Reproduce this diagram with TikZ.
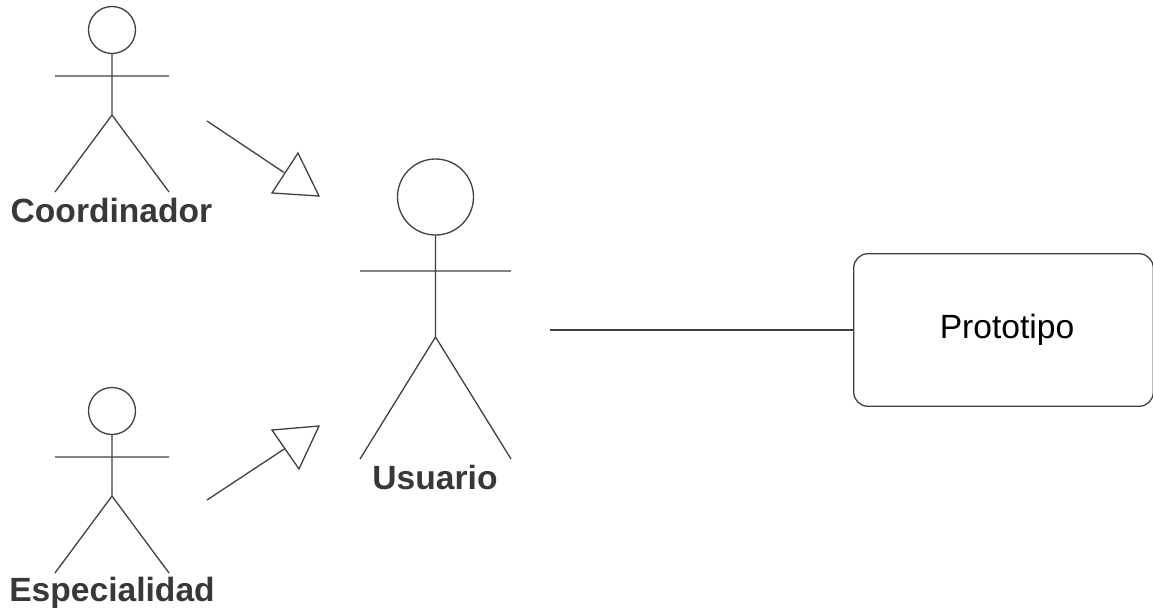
\documentclass[tikz,border=0pt]{standalone}
\usepackage{fontspec}
\setmainfont{Liberation Sans}
\begin{document}
\begin{tikzpicture}[x=1pt,y=-1pt,
  ln/.style={draw=black!75,line width=1.3pt,line join=round},
  lab/.style={font=\bfseries\fontsize{33.6}{36}\selectfont,text=black!78,inner sep=0pt,anchor=center},
  hollowtri/.style={draw=black!75,line width=1.3pt,fill=white,line join=miter}]
\useasboundingbox (0,0) rectangle (1153,610);
% Coordinador
\coordinate (c1) at (112,30);
\draw[ln] (c1) circle (23.5);
\coordinate (c1n) at (112,53.5);
\coordinate (c1h) at (112,115);
\coordinate (c1al) at (55,76);
\coordinate (c1ar) at (169,76);
\coordinate (c1fl) at (55,192);
\coordinate (c1fr) at (169,192);
\draw[ln] (c1n) -- (c1h) (c1al) -- (c1ar) (c1fl) -- (c1h) -- (c1fr);
\node[lab] (coord) at (111.5,210) {Coordinador};
% Especialidad
\coordinate (c2) at (112,411);
\draw[ln] (c2) circle (23.5);
\coordinate (c2n) at (112,434.5);
\coordinate (c2h) at (112,496);
\coordinate (c2al) at (55,457);
\coordinate (c2ar) at (169,457);
\coordinate (c2fl) at (55,573);
\coordinate (c2fr) at (169,573);
\draw[ln] (c2n) -- (c2h) (c2al) -- (c2ar) (c2fl) -- (c2h) -- (c2fr);
\node[lab] (esp) at (112,593) {Especialidad};
% Usuario
\coordinate (u) at (435.5,197);
\draw[ln] (u) circle (38);
\coordinate (un) at (435.5,235);
\coordinate (uh) at (435.5,337);
\coordinate (ual) at (360,271);
\coordinate (uar) at (511,271);
\coordinate (ufl) at (360,459);
\coordinate (ufr) at (511,459);
\draw[ln] (un) -- (uh) (ual) -- (uar) (ufl) -- (uh) -- (ufr);
\node[lab] (usr) at (435,477.5) {Usuario};
% generalisations
\coordinate (g1s) at (207,121);
\coordinate (g1b) at (284,172.5);
\coordinate (g1a) at (298,153);
\coordinate (g1c) at (272,193);
\coordinate (g1t) at (319,196);
\draw[ln] (g1s) -- (g1b);
\draw[hollowtri] (g1a) -- (g1t) -- (g1c) -- cycle;
\coordinate (g2s) at (207,500);
\coordinate (g2b) at (285,448.5);
\coordinate (g2a) at (299,469);
\coordinate (g2c) at (272,430);
\coordinate (g2t) at (319,426);
\draw[ln] (g2s) -- (g2b);
\draw[hollowtri] (g2a) -- (g2t) -- (g2c) -- cycle;
% Prototipo
\node[draw=black!75,line width=1.3pt,rounded corners=14pt,minimum width=299.5pt,minimum height=152.5pt,inner sep=0pt,font=\fontsize{33.6}{36}\selectfont,text=black] (p) at (1003.5,330) {\hspace*{7pt}\raisebox{-1.5pt}{Prototipo}};
\coordinate (assoc) at (550,330);
\draw[ln] (assoc) -- (p.west);
\end{tikzpicture}
\end{document}
